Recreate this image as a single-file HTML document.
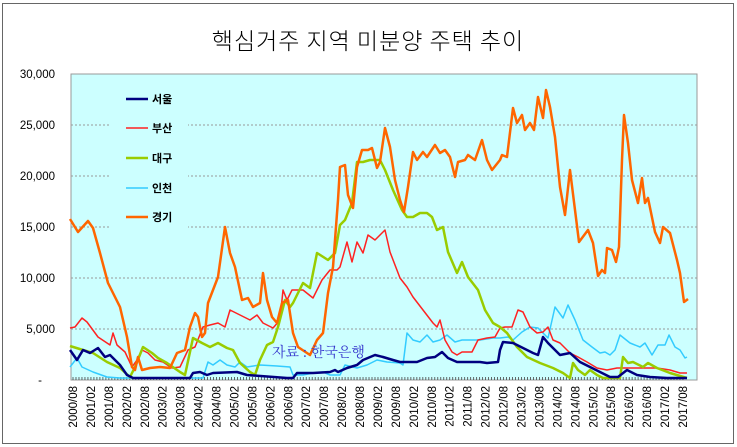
<!DOCTYPE html>
<html><head><meta charset="utf-8"><style>
body{margin:0;background:#fff}
svg{display:block;font-family:"Liberation Sans","Noto Sans CJK KR",sans-serif}
</style></head><body>
<svg width="737" height="447" viewBox="0 0 737 447">
<rect x="2.5" y="3.5" width="731" height="440" fill="#fff" stroke="#666" stroke-width="1"/>
<text x="368" y="49" text-anchor="middle" font-size="23" font-family="'Noto Sans CJK KR',sans-serif" font-weight="300" letter-spacing="1">핵심거주 지역 미분양 주택 추이</text>
<rect x="71" y="74" width="626" height="306" fill="#ccffff" stroke="#999" stroke-width="1"/>
<g stroke="#999" stroke-dasharray="2,2" stroke-width="1">
<line x1="71" y1="125" x2="697" y2="125"/><line x1="71" y1="176" x2="697" y2="176"/><line x1="71" y1="227" x2="697" y2="227"/><line x1="71" y1="278" x2="697" y2="278"/><line x1="71" y1="329" x2="697" y2="329"/>
</g>
<rect x="110" y="88" width="78" height="140" fill="#ccffff"/>
<g font-size="11.5" text-anchor="end" fill="#000">
<text x="55" y="78">30,000</text><text x="55" y="129">25,000</text><text x="55" y="180">20,000</text><text x="55" y="231">15,000</text><text x="55" y="282">10,000</text><text x="55" y="333">5,000</text><text x="42" y="384">-</text>
</g>
<g id="ticks"></g>
<g id="xl" font-size="11.5"></g>
<g fill="none" stroke-linejoin="round">
<polyline stroke="#33ccff" stroke-width="1.5" points="70,367 77,358 82,367 93,372 107,377 120,378 203,378 208,362 213,365 220,360 227,365 235,367 240,362 247,367 260,365 277,366 290,367 293,375 303,375 313,373 323,372 330,375 340,375 345,365 357,368 367,365 377,360 387,362 400,363 403,365 407,333 413,340 420,342 427,335 433,342 440,340 447,335 455,342 462,340 480,340 493,338 500,338 508,337 513,340 522,332 530,327 538,328 548,338 555,307 563,318 568,305 575,320 583,340 592,347 600,353 605,352 610,355 615,350 620,335 630,343 640,347 645,343 652,355 658,345 665,345 669,335 675,347 680,350 685,358 687,357"/>
<polyline stroke="#ff2222" stroke-width="1.5" points="70,328 75,327 82,318 87,322 98,337 110,345 113,333 117,345 125,352 132,367 137,360 142,350 148,353 155,360 163,362 172,368 180,367 188,350 195,347 203,327 210,325 218,323 225,327 230,310 240,315 250,320 257,315 263,323 273,328 280,320 283,290 287,300 292,290 303,290 313,298 322,280 330,270 337,270 340,267 347,242 352,262 357,242 363,253 368,235 375,240 380,235 385,230 390,252 400,278 407,287 413,297 423,310 433,323 437,327 440,320 445,340 452,352 457,355 462,352 472,352 478,340 487,338 495,337 500,328 505,327 512,327 518,310 523,312 530,327 537,333 543,332 548,327 553,340 560,343 570,353 578,357 587,362 597,368 607,370 617,368 640,368 657,368 670,370 680,373 687,373"/>
<polyline stroke="#99cc00" stroke-width="2.5" points="70,346 83,350 93,353 107,362 120,368 130,377 135,367 143,347 152,353 158,358 167,363 180,372 185,375 193,338 202,343 210,347 218,343 227,348 233,350 240,363 250,372 255,375 260,360 267,345 273,342 278,327 285,300 290,307 293,303 303,283 310,288 317,253 328,260 335,253 340,225 345,220 352,203 357,162 363,162 370,160 380,160 385,170 393,190 402,210 407,217 413,217 420,213 427,213 432,217 437,230 443,227 448,252 457,273 462,262 468,277 478,290 485,310 493,323 500,327 507,333 517,347 527,357 540,363 553,368 563,373 570,378 573,363 578,370 585,375 590,370 597,375 603,378 620,378 623,357 628,363 633,362 643,367 648,363 657,368 670,373 687,378"/>
<polyline stroke="#000080" stroke-width="2.5" points="70,350 77,360 83,350 90,353 98,348 105,357 110,355 120,365 127,375 133,378 190,378 193,373 200,372 207,375 213,373 237,372 247,375 287,378 293,378 297,373 313,373 330,372 335,370 338,372 347,368 357,365 363,360 375,355 383,357 393,360 400,362 417,362 427,358 435,357 442,352 448,358 457,362 480,362 487,363 498,362 500,350 503,342 513,343 523,348 533,353 538,355 543,337 548,343 560,355 570,353 580,362 590,367 600,372 610,377 618,377 627,370 637,375 650,377 667,378 687,378"/>
<polyline stroke="#ff6600" stroke-width="2.5" points="70,219 78,232 88,221 93,228 100,253 108,283 120,307 127,337 132,367 135,370 138,357 142,370 150,368 160,367 170,368 177,353 185,350 190,327 195,313 198,317 202,337 205,333 208,303 213,290 218,277 225,227 230,253 235,267 242,300 248,298 253,307 260,303 263,273 267,300 272,317 277,323 282,303 288,300 293,333 298,347 310,355 317,340 323,333 328,293 333,267 338,200 340,167 345,165 348,195 353,208 357,167 362,150 368,150 372,148 377,168 380,162 385,128 390,147 395,180 400,200 404,212 408,187 413,152 417,160 423,152 427,157 435,145 440,153 445,150 450,157 455,177 458,162 465,160 468,155 475,160 482,140 487,160 492,170 500,160 502,155 507,157 513,108 517,123 522,115 525,130 530,123 534,130 538,97 543,118 546,90 550,107 555,137 560,187 565,215 570,170 575,210 579,242 588,230 593,243 598,276 602,270 605,273 607,248 612,250 616,262 619,247 622,160 624,115 628,143 632,180 638,203 642,178 645,203 648,198 655,232 660,243 663,227 670,233 677,260 680,273 684,302 688,299"/>
</g>
<g font-size="11" font-weight="bold">
<line x1="126" y1="99" x2="148" y2="99" stroke="#000080" stroke-width="2.5"/><text x="152" y="103">서울</text>
<line x1="126" y1="128" x2="148" y2="128" stroke="#ff2222" stroke-width="1.5"/><text x="152" y="132">부산</text>
<line x1="126" y1="158" x2="148" y2="158" stroke="#99cc00" stroke-width="2.5"/><text x="152" y="162">대구</text>
<line x1="126" y1="188" x2="148" y2="188" stroke="#33ccff" stroke-width="1.5"/><text x="152" y="192">인천</text>
<line x1="126" y1="217" x2="148" y2="217" stroke="#ff6600" stroke-width="2.5"/><text x="152" y="221">경기</text>
</g>
<text x="272" y="357" font-size="14" fill="#3333cc" font-family="'Noto Serif CJK SC',serif">자료 : 한국은행</text>
</svg>
<script>
var ns="http://www.w3.org/2000/svg",t=document.getElementById("ticks"),xl=document.getElementById("xl");
for(var m=0;m<=204;m++){var x=73+m*2.99;var l=document.createElementNS(ns,"line");l.setAttribute("x1",x);l.setAttribute("x2",x);l.setAttribute("y1",377);l.setAttribute("y2",380);l.setAttribute("stroke","#444");l.setAttribute("stroke-width","0.8");t.appendChild(l);}
for(var i=0;i<35;i++){var y=2000+Math.floor((i+1)/2),mo=i%2==0?"08":"02";var x=73+i*17.94+4;var e=document.createElementNS(ns,"text");e.setAttribute("transform","translate("+x+",386) rotate(-90)");e.setAttribute("text-anchor","end");e.textContent=y+"/"+mo;xl.appendChild(e);}
</script>
</body></html>
